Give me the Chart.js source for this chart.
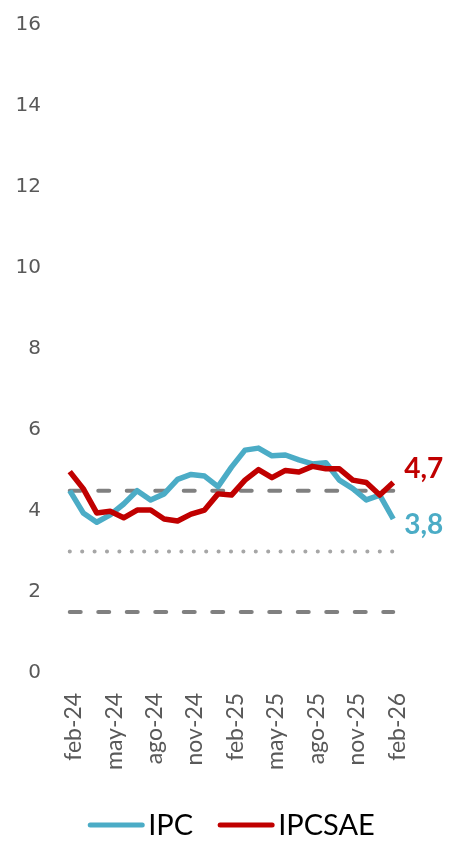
<!DOCTYPE html>
<html>
<head>
<meta charset="utf-8">
<script src="https://cdn.jsdelivr.net/npm/chart.js@4.4.1/dist/chart.umd.min.js"></script>
<style>
  html, body { margin: 0; padding: 0; background: #fff; }
  #wrap { width: 449px; height: 843px; }
</style>
</head>
<body>
<div id="wrap"><canvas id="chart" width="449" height="843"></canvas></div>
<script>
// months shown on the category axis, feb-24 .. feb-26
const months = ['feb-24', 'mar-24', 'abr-24', 'may-24', 'jun-24', 'jul-24', 'ago-24', 'sep-24', 'oct-24',
  'nov-24', 'dic-24', 'ene-25', 'feb-25', 'mar-25', 'abr-25', 'may-25', 'jun-25', 'jul-25', 'ago-25',
  'sep-25', 'oct-25', 'nov-25', 'dic-25', 'ene-26', 'feb-26'];

// headline and core inflation (%)
const ipc = [4.5, 3.95, 3.72, 3.9, 4.17, 4.5, 4.27, 4.42, 4.78, 4.9, 4.86, 4.6, 5.08, 5.5, 5.55,
  5.36, 5.38, 5.26, 5.16, 5.19, 4.76, 4.55, 4.27, 4.39, 3.8];
const ipcsae = [4.97, 4.55, 3.95, 3.99, 3.83, 4.02, 4.02, 3.8, 3.75, 3.92, 4.02, 4.42, 4.39, 4.76, 5.02,
  4.82, 5.0, 4.96, 5.1, 5.04, 5.04, 4.76, 4.7, 4.39, 4.7];

// target range
const rangeTop = 4.5;
const target = 3;
const rangeBottom = 1.5;

const yTicks = [0, 2, 4, 6, 8, 10, 12, 14, 16];

const BLUE = '#4BACC6';
const RED = '#C00000';

// last value written next to the end of each line
const endLabels = {
    id: 'endLabels',
    afterDatasetsDraw(chart) {
        const ctx = chart.ctx;
        const x = chart.scales.x;
        const y = chart.scales.y;
        const last = months.length - 1;
        ctx.save();
        ctx.font = 'bold 28px Lato';
        ctx.textAlign = 'left';
        ctx.textBaseline = 'middle';
        ctx.fillStyle = RED;
        ctx.fillText(ipcsae[last].toFixed(1).replace('.', ','), x.getPixelForValue(last) + 11, y.getPixelForValue(ipcsae[last]) - 14);
        ctx.fillStyle = BLUE;
        ctx.fillText(ipc[last].toFixed(1).replace('.', ','), x.getPixelForValue(last) + 11, y.getPixelForValue(ipc[last]) + 6);
        ctx.restore();
    }
};

// legend drawn by hand: short thick line + name, centred under the chart
const lineLegend = {
    id: 'lineLegend',
    afterDraw(chart) {
        const ctx = chart.ctx;
        const items = [{ text: 'IPC', color: BLUE }, { text: 'IPCSAE', color: RED }];
        const cy = chart.height - 18;
        ctx.save();
        ctx.font = '29px Lato';
        ctx.textBaseline = 'middle';
        const widths = items.map(it => 56 + 4 + ctx.measureText(it.text).width);
        const total = widths[0] + widths[1] + 25;
        let x = (chart.width - total) / 2 + 7;
        items.forEach((it, i) => {
            ctx.strokeStyle = it.color;
            ctx.lineWidth = 5;
            ctx.lineCap = 'round';
            ctx.beginPath();
            ctx.moveTo(x + 2, cy);
            ctx.lineTo(x + 54, cy);
            ctx.stroke();
            ctx.fillStyle = '#000';
            ctx.fillText(it.text, x + 60, cy + 1);
            x += widths[i] + 25;
        });
        ctx.restore();
    }
};

const flat = (v) => months.map(() => v);

new Chart(document.getElementById('chart'), {
    type: 'line',
    data: {
        labels: months,
        datasets: [
            { label: 'IPC', data: ipc, borderColor: BLUE, backgroundColor: BLUE, borderWidth: 5.5, order: 1 },
            { label: 'IPCSAE', data: ipcsae, borderColor: RED, backgroundColor: RED, borderWidth: 5.5, order: 0 },
            { label: 'techo', data: flat(rangeTop), borderColor: '#808080', borderWidth: 4, borderDash: [11, 17.5], borderCapStyle: 'round', order: 2 },
            { label: 'meta', data: flat(target), borderColor: '#A6A6A6', borderWidth: 4, borderDash: [0.1, 12.3], borderCapStyle: 'round', order: 2 },
            { label: 'piso', data: flat(rangeBottom), borderColor: '#808080', borderWidth: 4, borderDash: [11, 17.5], borderCapStyle: 'round', order: 2 },
        ]
    },
    plugins: [endLabels, lineLegend],
    options: {
        responsive: false,
        animation: false,
        layout: { padding: { top: 25, left: 12, right: 49, bottom: 53 } },
        elements: {
            point: { radius: 0, hoverRadius: 0 },
            line: { tension: 0, fill: false, borderJoinStyle: 'round' }
        },
        scales: {
            x: {
                offset: true,
                grid: { display: false, drawTicks: false },
                border: { display: false },
                ticks: {
                    autoSkip: false,
                    minRotation: 90,
                    maxRotation: 90,
                    padding: 20,
                    labelOffset: 4,
                    color: '#595959',
                    font: { family: 'Lato', size: 23 },
                    callback: (v, i) => (i % 3 === 0 ? months[i] : '')
                }
            },
            y: {
                min: 0,
                max: 16,
                afterBuildTicks: (axis) => { axis.ticks = yTicks.map(v => ({ value: v })); },
                afterFit: (axis) => {
                    axis.width = 51;
                    axis.paddingTop = 0;
                    axis.paddingBottom = 0;
                },
                grid: { display: false, drawTicks: false },
                border: { display: false },
                ticks: {
                    padding: 22,
                    color: '#595959',
                    font: { family: 'DejaVu Sans', size: 20 }
                }
            }
        },
        plugins: {
            legend: { display: false },
            tooltip: { enabled: false }
        }
    }
});
</script>
</body>
</html>
